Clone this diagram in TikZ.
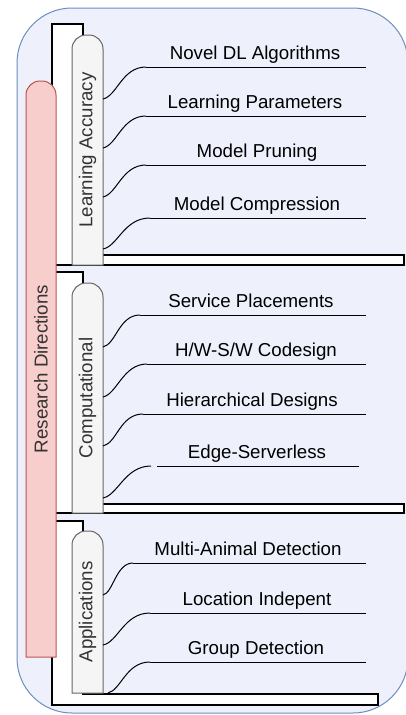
\documentclass[tikz,border=0pt]{standalone}
\usepackage{fontspec}
\setmainfont{Liberation Sans}
\usetikzlibrary{calc}
\definecolor{outerfill}{HTML}{EEF1FC}
\definecolor{outerline}{HTML}{6C8EBF}
\definecolor{redfill}{HTML}{F8CECC}
\definecolor{redline}{HTML}{B85450}
\definecolor{grayfill}{HTML}{F5F5F5}
\definecolor{grayline}{HTML}{666666}
\begin{document}
\begin{tikzpicture}[x=1pt,y=-1pt,
  font=\fontsize{18.7}{22}\selectfont,
  frameL/.style={draw=black,fill=white,line width=1.2pt},
  catbox/.style={draw=grayline,fill=grayfill,line width=1pt},
  rootbox/.style={draw=redline,fill=redfill,line width=1pt},
  cattext/.style={rotate=90,text=black!80,inner sep=0pt},
  leaf/.style={anchor=base,inner sep=0pt,text=black},
  leafline/.style={draw=black,line width=1pt},
  conn/.style={draw=black,line width=1pt}]
\useasboundingbox (0,0) rectangle (406,715);
% outer container
\draw[draw=outerline,fill=outerfill,line width=1pt,rounded corners=55] (17,8) rectangle (408,713);
% white L frames
\draw[frameL] (52,24) -- (83,24) -- (83,255) -- (404,255) -- (404,265) -- (52,265) -- cycle;
\draw[frameL] (52,272) -- (83,272) -- (83,504) -- (404,504) -- (404,513) -- (52,513) -- cycle;
\draw[frameL] (52,521) -- (83,521) -- (83,694) -- (378,694) -- (378,705) -- (52,705) -- cycle;
% root
\draw[rootbox] (26,657) {[rounded corners=14] -- (26,81) -- (56,81)} -- (56,657) -- cycle;
\node[cattext] (root) at (41,369) {Research Directions};
% categories
\draw[catbox] (72,265) {[rounded corners=14] -- (72,35) -- (103,35)} -- (103,265) -- cycle;
\node[cattext] (la) at (87.5,150) {Learning Accuracy};
\draw[catbox] (72,513) {[rounded corners=14] -- (72,283) -- (103,283)} -- (103,513) -- cycle;
\node[cattext] (co) at (87.5,398) {Computational};
\draw[catbox] (72,693) {[rounded corners=14] -- (72,531) -- (103,531)} -- (103,693) -- cycle;
\node[cattext] (ap) at (87.5,612) {Applications};
% connector start points
\coordinate (s1) at (103,99);
\coordinate (s2) at (103,148);
\coordinate (s3) at (103,197);
\coordinate (s4) at (103,249);
\coordinate (s5) at (103,347);
\coordinate (s6) at (103,397);
\coordinate (s7) at (103,446);
\coordinate (s8) at (103,498);
\coordinate (s9) at (103,595);
\coordinate (s10) at (103,645);
\coordinate (s11) at (108,693);
% leaf line ends
\coordinate (a1s) at (146,67);  \coordinate (a1e) at (366,67);
\coordinate (a2s) at (146,116); \coordinate (a2e) at (366,116);
\coordinate (a3s) at (146,165); \coordinate (a3e) at (366,165);
\coordinate (a4s) at (150,218); \coordinate (a4e) at (366,218);
\coordinate (a5s) at (140,315); \coordinate (a5e) at (366,315);
\coordinate (a6s) at (147,364); \coordinate (a6e) at (366,364);
\coordinate (a7s) at (143,414); \coordinate (a7e) at (366,414);
\coordinate (a8c) at (151,466);
\coordinate (a8s) at (157,466); \coordinate (a8e) at (359,466);
\coordinate (a9s) at (133,563); \coordinate (a9e) at (366,563);
\coordinate (a10s) at (150,613); \coordinate (a10e) at (366,613);
\coordinate (a11s) at (150,662); \coordinate (a11e) at (366,662);
% leaf texts
\node[leaf] (a1) at (255,59) {Novel DL Algorithms};
\node[leaf] (a2) at (255,108) {Learning Parameters};
\node[leaf] (a3) at (257,157) {Model Pruning};
\node[leaf] (a4) at (257,210) {Model Compression};
\node[leaf] (a5) at (251,307) {Service Placements};
\node[leaf] (a6) at (256,356) {H/W-S/W Codesign};
\node[leaf] (a7) at (252,406) {Hierarchical Designs};
\node[leaf] (a8) at (257,458) {Edge-Serverless};
\node[leaf] (a9) at (248,555) {Multi-Animal Detection};
\node[leaf] (a10) at (257,605) {Location Indepent};
\node[leaf] (a11) at (256,654) {Group Detection};
% leaf lines
\foreach \i in {1,2,3,4,5,6,7,8,9,10,11} {\draw[leafline] (a\i s) -- (a\i e);}
% connectors
\draw[conn] (s1) .. controls +(14,-3) and +(-24,0) .. (a1s);
\draw[conn] (s2) .. controls +(14,-3) and +(-24,0) .. (a2s);
\draw[conn] (s3) .. controls +(14,-3) and +(-24,0) .. (a3s);
\draw[conn] (s4) .. controls +(15,-3) and +(-26,0) .. (a4s);
\draw[conn] (s5) .. controls +(13,-3) and +(-21,0) .. (a5s);
\draw[conn] (s6) .. controls +(14,-3) and +(-24,0) .. (a6s);
\draw[conn] (s7) .. controls +(14,-3) and +(-23,0) .. (a7s);
\draw[conn] (s8) .. controls +(15,-3) and +(-26,0) .. (a8c);
\draw[conn] (s9) .. controls +(10,-2) and +(-17,0) .. (a9s);
\draw[conn] (s10) .. controls +(15,-3) and +(-26,0) .. (a10s);
\draw[conn] (s11) .. controls +(13,-3) and +(-24,0) .. (a11s);
\end{tikzpicture}
\end{document}
